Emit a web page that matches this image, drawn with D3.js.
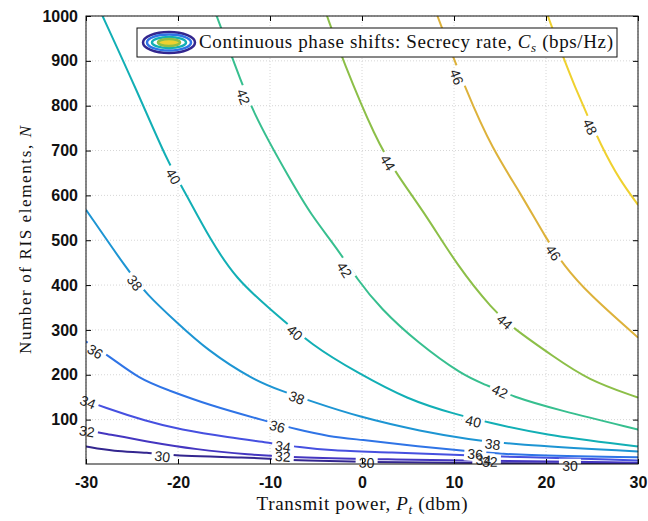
<!DOCTYPE html>
<html lang="en">
<head>
    <meta charset="UTF-8">
    <title>Secrecy rate contours</title>
    <script src="https://d3js.org/d3.v7.min.js"></script>
    <style>
        body { margin: 0; background: #fff; }
        .tick text { font-family: 'Liberation Sans', Arial, sans-serif; font-size: 16px; font-weight: bold; fill: #111; }
        .serif { font-family: 'Liberation Serif', 'Times New Roman', serif; fill: #111; }
        .clabel { font-family: 'Liberation Sans', Arial, sans-serif; font-size: 14px; fill: #222; }
    </style>
</head>
<body>

<script>
    const width  = 648;
    const height = 521;
    const margin = {left: 86, right: 10, top: 16, bottom: 57};

    // contour levels and their colours (parula-like)
    const levels = [30, 32, 34, 36, 38, 40, 42, 44, 46, 48];
    const levelColors = ["#33268f", "#4436c0", "#4650e0", "#2f74e6", "#1d95d3",
                         "#12afb5", "#37bf8f", "#8cbf48", "#ddb23b", "#efd12f"];

    // contour lines: [Pt (dBm), N]
    const line30 = [[-30,40],[-27,29],[-23.4,27],[-19.8,18],[-12.5,16],[-8.9,11],[-6.7,9],[0.5,5],[11.7,3],[30,2]];
    const line32 = [[-30,76],[-28.5,71],[-23.4,51],[-17.9,33],[-12.5,22],[-6.7,15],[3,11],[11.7,9],[30,4]];
    const line34 = [[-30,143],[-28.3,129],[-23.4,96],[-19.8,78],[-14.4,60],[-10.3,49],[-6.7,38],[-3.5,31],[3,27],[11,20],[30,9]];
    const line36 = [[-30,274],[-27.7,245],[-24.1,189],[-21.2,167],[-16.9,134],[-10.3,96],[-7.1,78],[-3.5,62],[-0.5,56],[6.3,40],[11.7,29],[17.2,20],[30,16]];
    const line38 = [[-30,568],[-25.5,434],[-23.4,379],[-20.1,316],[-16.9,256],[-11.9,189],[-8.6,163],[-5.4,140],[-0.5,107],[6.6,73],[11.7,56],[16.1,45],[30,29]];
    const line40 = [[-28.2,1000],[-24.5,835],[-21.1,673],[-19.2,606],[-16.5,501],[-13.6,412],[-10.3,352],[-5.3,263],[-0.5,205],[4.9,145],[10.3,111],[13.7,94],[19.4,67],[30,40]];
    const line42 = [[-15.8,1000],[-14,902],[-11.9,784],[-7.8,635],[-5.5,555],[-2.7,482],[-0.5,412],[2,348],[6,272],[11,198],[13.2,180],[16.4,151],[21.2,122],[30,78]];
    const line44 = [[-3.8,1000],[-2.1,902],[1.5,725],[3.8,646],[7.1,552],[10.3,445],[14.2,345],[16.6,301],[20.8,241],[24.5,189],[30,149]];
    const line46 = [[8.2,1000],[11.4,829],[14.2,702],[17.2,606],[20.1,501],[21.9,445],[24.5,383],[30,283]];
    const line48 = [[20.2,1000],[23.2,835],[26.2,702],[28,635],[30,579]];

    // inline label positions: [Pt (dBm), N]
    const labels30 = [[-21.7,18],[0.5,4],[22.6,-3]];
    const labels32 = [[-29.9,74],[-8.6,18],[13.9,6]];
    const labels34 = [[-29.8,139],[-8.6,40],[13.2,10]];
    const labels36 = [[-29,252],[-9.2,85],[12.3,23]];
    const labels38 = [[-24.7,405],[-7.1,149],[14.2,45]];
    const labels40 = [[-20.5,642],[-7.3,294],[12.1,96]];
    const labels42 = [[-12.9,820],[-1.9,434],[15,163]];
    const labels44 = [[2.8,673],[15.5,318]];
    const labels46 = [[10.3,864],[20.8,472]];
    const labels48 = [[24.8,753]];

    const xTicks = [-30, -20, -10, 0, 10, 20, 30];
    const yTicks = [100, 200, 300, 400, 500, 600, 700, 800, 900, 1000];

    const lines  = [line30, line32, line34, line36, line38, line40, line42, line44, line46, line48];
    const labels = [labels30, labels32, labels34, labels36, labels38, labels40, labels42, labels44, labels46, labels48];

    const x = d3.scaleLinear().domain([-30, 30]).range([margin.left, width - margin.right]);
    const y = d3.scaleLinear().domain([1, 1000]).range([height - margin.bottom, margin.top]);
    const color = d3.scaleOrdinal().domain(levels).range(levelColors);

    const svg = d3.select("body").append("svg").attr("width", width).attr("height", height);
    const defs = svg.append("defs");

    defs.append("clipPath").attr("id", "plotClip")
        .append("rect")
        .attr("x", x(-30)).attr("y", y(1000))
        .attr("width", x(30) - x(-30)).attr("height", y(1) - y(1000));

    // grid
    const grid = svg.append("g").attr("stroke", "#d6d6d6").attr("stroke-dasharray", "1,2");
    grid.selectAll(".gx").data(xTicks).join("line")
        .attr("x1", d => x(d)).attr("x2", d => x(d))
        .attr("y1", y(1)).attr("y2", y(1000));
    grid.selectAll(".gy").data(yTicks).join("line")
        .attr("x1", x(-30)).attr("x2", x(30))
        .attr("y1", d => y(d)).attr("y2", d => y(d));

    const lineGen = d3.line()
        .x(d => x(d[0]))
        .y(d => y(d[1]))
        .curve(d3.curveBasis);

    // label angle follows the nearest line segment
    function labelAngle(pts, lx, ly) {
        let best = Infinity, ang = 0;
        for (let k = 0; k < pts.length - 1; k++) {
            const x0 = x(pts[k][0]), y0 = y(pts[k][1]);
            const x1 = x(pts[k + 1][0]), y1 = y(pts[k + 1][1]);
            const mx = (x0 + x1) / 2, my = (y0 + y1) / 2;
            const dd = (mx - lx) ** 2 + (my - ly) ** 2;
            if (dd < best) {
                best = dd;
                ang = Math.atan2(y1 - y0, x1 - x0) * 180 / Math.PI;
            }
        }
        if (ang > 90) ang -= 180;
        if (ang < -90) ang += 180;
        return ang;
    }

    const labelData = [];
    levels.forEach((lv, i) => {
        labels[i].forEach(p => {
            const lx = x(p[0]), ly = y(p[1]);
            labelData.push({level: lv, lx: lx, ly: ly, angle: labelAngle(lines[i], lx, ly)});
        });
    });

    // mask makes gaps in the lines where labels sit
    const mask = defs.append("mask").attr("id", "labelGaps")
        .attr("maskUnits", "userSpaceOnUse")
        .attr("x", 0).attr("y", 0).attr("width", width).attr("height", height);
    mask.append("rect").attr("width", width).attr("height", height).attr("fill", "white");
    mask.selectAll("rect.gap").data(labelData).join("rect")
        .attr("class", "gap")
        .attr("x", -11).attr("y", -7).attr("width", 22).attr("height", 14)
        .attr("fill", "black")
        .attr("transform", d => "translate(" + [d.lx, d.ly] + ") rotate(" + d.angle + ")");

    svg.append("g").attr("clip-path", "url(#plotClip)")
        .append("g").attr("mask", "url(#labelGaps)")
        .selectAll("path").data(levels).join("path")
        .attr("d", (d, i) => lineGen(lines[i]))
        .attr("fill", "none")
        .attr("stroke", d => color(d))
        .attr("stroke-width", 2);

    svg.append("g").selectAll("text").data(labelData).join("text")
        .attr("class", "clabel")
        .attr("text-anchor", "middle")
        .attr("dy", "0.36em")
        .attr("transform", d => "translate(" + [d.lx, d.ly] + ") rotate(" + d.angle + ")")
        .text(d => d.level);

    // axes with inward ticks on all four sides
    const fmt = d => String(d);
    svg.append("g").attr("transform", "translate(0," + y(1) + ")")
        .call(d3.axisBottom(x).tickValues(xTicks).tickFormat(fmt).tickSizeInner(-5).tickSizeOuter(0).tickPadding(13));
    svg.append("g").attr("transform", "translate(0," + y(1000) + ")")
        .call(d3.axisTop(x).tickValues(xTicks).tickFormat("").tickSizeInner(-5).tickSizeOuter(0));
    svg.append("g").attr("transform", "translate(" + x(-30) + ",0)")
        .call(d3.axisLeft(y).tickValues(yTicks).tickFormat(fmt).tickSizeInner(-5).tickSizeOuter(0).tickPadding(8));
    svg.append("g").attr("transform", "translate(" + x(30) + ",0)")
        .call(d3.axisRight(y).tickValues(yTicks).tickFormat("").tickSizeInner(-5).tickSizeOuter(0));
    svg.selectAll(".domain").remove();

    svg.append("rect")
        .attr("x", x(-30)).attr("y", y(1000))
        .attr("width", x(30) - x(-30)).attr("height", y(1) - y(1000))
        .attr("fill", "none").attr("stroke", "#111").attr("stroke-width", 1);

    // axis titles
    const xt = svg.append("text").attr("class", "serif")
        .attr("x", (x(-30) + x(30)) / 2).attr("y", 510)
        .attr("text-anchor", "middle").attr("font-size", 19)
        .attr("textLength", 211).attr("lengthAdjust", "spacing");
    xt.append("tspan").text("Transmit power, ");
    xt.append("tspan").attr("font-style", "italic").text("P");
    xt.append("tspan").attr("font-style", "italic").attr("font-size", 13).attr("dy", 4).text("t");
    xt.append("tspan").attr("dy", -4).text(" (dbm)");

    const yt = svg.append("text").attr("class", "serif")
        .attr("transform", "translate(31," + (y(1) + y(1000)) / 2 + ") rotate(-90)")
        .attr("text-anchor", "middle").attr("font-size", 17)
        .attr("textLength", 228).attr("lengthAdjust", "spacing");
    yt.append("tspan").text("Number of RIS elements, ");
    yt.append("tspan").attr("font-style", "italic").text("N");

    // legend
    const lg = svg.append("g");
    lg.append("rect").attr("x", 137).attr("y", 28).attr("width", 480).attr("height", 29)
        .attr("fill", "#fff").attr("stroke", "#111").attr("stroke-width", 1);
    const rings = [[26, 10.5, levelColors[0]], [22, 8, levelColors[3]], [17, 5.5, levelColors[5]], [11, 3.5, levelColors[7]]];
    lg.selectAll("ellipse").data(rings).join("ellipse")
        .attr("cx", 169).attr("cy", 42.5)
        .attr("rx", d => d[0]).attr("ry", d => d[1])
        .attr("fill", (d, i) => i === rings.length - 1 ? levelColors[9] : "#fff")
        .attr("stroke", d => d[2]).attr("stroke-width", 2.5);
    const lt = lg.append("text").attr("class", "serif")
        .attr("x", 199).attr("y", 48).attr("font-size", 19)
        .attr("textLength", 414).attr("lengthAdjust", "spacing");
    lt.append("tspan").text("Continuous phase shifts: Secrecy rate, ");
    lt.append("tspan").attr("font-style", "italic").text("C");
    lt.append("tspan").attr("font-style", "italic").attr("font-size", 13).attr("dy", 4).text("s");
    lt.append("tspan").attr("dy", -4).text(" (bps/Hz)");
</script>

</body>
</html>
